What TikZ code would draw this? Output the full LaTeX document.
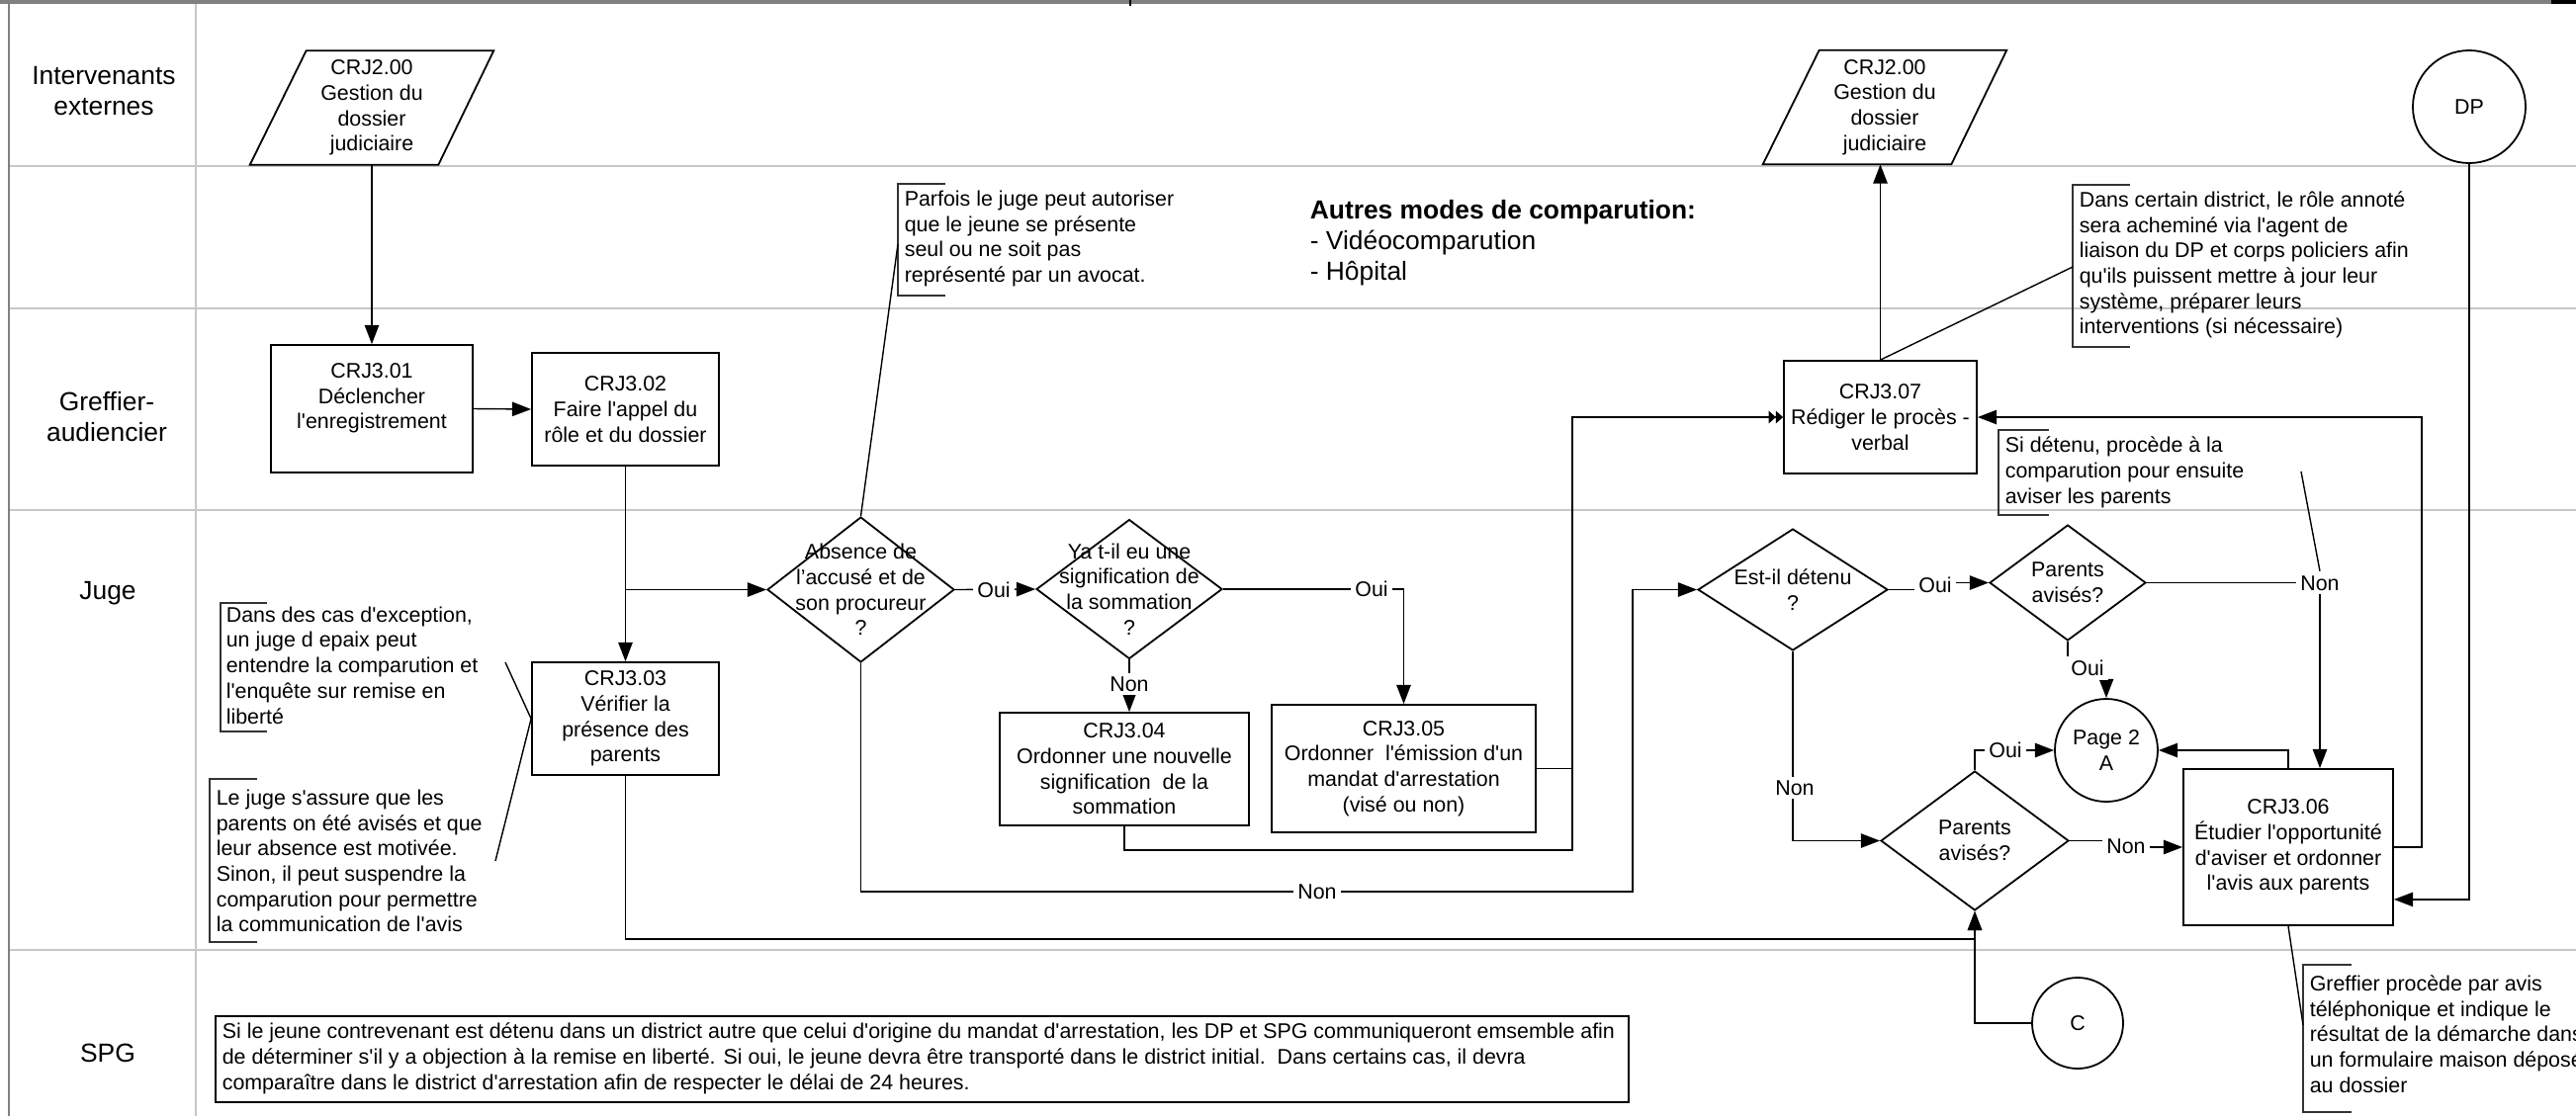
\documentclass[tikz,border=0pt]{standalone}
\usepackage{fontspec}
\setmainfont{Liberation Sans}[Ligatures=TeXOff]
\usetikzlibrary{arrows.meta,shapes.geometric,calc}
\tikzset{
  every node/.style={font=\fontsize{5.35}{6.43}\selectfont, inner sep=0pt},
  box/.style={draw, line width=0.45pt, rectangle, align=center},
  dia/.style={draw, line width=0.45pt, diamond, inner sep=0pt},
  circ/.style={draw, line width=0.45pt, circle, align=center},
  conn/.style={line width=0.35pt, -{Triangle[length=4.8pt,width=3.6pt]}},
  dconn/.style={line width=0.35pt, -{Triangle[length=1.8pt,width=3.1pt] Triangle[length=1.8pt,width=3.1pt]}},
  aline/.style={line width=0.35pt},
  lbl/.style={fill=white, inner sep=1pt},
  notetxt/.style={align=left, anchor=west},
  brk/.style={line width=0.4pt, draw=black!80},
  lane/.style={draw=black!22, line width=0.55pt},
  lanelbl/.style={align=center, font=\fontsize{6.6}{7.75}\selectfont},
}
\begin{document}
\begin{tikzpicture}[x=0.25pt, y=-0.25pt]
\useasboundingbox (0,0) rectangle (2605,1129);
% frame and lanes
\draw[lane] (198,0) -- (198,1129);
\foreach \yy in {168,312,516,961} \draw[lane] (9,\yy) -- (2605,\yy);
\draw[draw=black!50, line width=0.7pt] (9,0) -- (9,1129);
\draw[draw=black!50, line width=0.8pt] (0,2) -- (2605,2);
\draw[line width=1pt] (2580,2) -- (2605,2);
\draw[aline] (1143,0) -- (1143,6);

% lane labels
\node[lanelbl] (lx) at (105,92) {Intervenants\\externes};
\node[lanelbl] (lg) at (108,422) {Greffier-\\audiencier};
\node[lanelbl] (lj) at (109,600) {Juge};
\node[lanelbl] (ls) at (109,1065) {SPG};

% parallelograms
\node[align=center, minimum width=61.25pt, minimum height=28.5pt] (p1) at (376,109) {CRJ2.00\\Gestion du\\dossier\\judiciaire};
\draw[line width=0.45pt] (p1.south west) -- ($(p1.south east)+(-56,0)$) -- (p1.north east) -- ($(p1.north west)+(57,0)$) -- cycle;
\node[align=center, minimum width=61.25pt, minimum height=28.5pt] (p2) at (1906,108.5) {CRJ2.00\\Gestion du\\dossier\\judiciaire};
\draw[line width=0.45pt] (p2.south west) -- ($(p2.south east)+(-56,0)$) -- (p2.north east) -- ($(p2.north west)+(57,0)$) -- cycle;

\node[circ, minimum size=28.5pt] (dp) at (2497,108) {DP};

% process boxes
\node[box, minimum width=51pt, minimum height=32.25pt] (c301) at (376,413.5) {CRJ3.01\\Déclencher\\l'enregistrement\\\mbox{}};
\node[box, minimum width=47.25pt, minimum height=28.5pt] (c302) at (632.5,414) {CRJ3.02\\Faire l'appel du\\rôle et du dossier};
\node[box, minimum width=47.25pt, minimum height=28.5pt] (c303) at (632.5,727) {CRJ3.03\\Vérifier la\\présence des\\parents};
\node[box, minimum width=63pt, minimum height=28.5pt] (c304) at (1137,778) {CRJ3.04\\Ordonner une nouvelle\\signification\ \ de la\\sommation};
\node[box, minimum width=66.75pt, minimum height=32.25pt] (c305) at (1419.5,777.5) {CRJ3.05\\Ordonner\ \ l'émission d'un\\mandat d'arrestation\\(visé ou non)};
\node[box, minimum width=53pt, minimum height=39.5pt] (c306) at (2314,857) {CRJ3.06\\Étudier l'opportunité\\d'aviser et ordonner\\l'avis aux parents};
\node[box, minimum width=48.75pt, minimum height=28.5pt] (c307) at (1901.5,422) {CRJ3.07\\Rédiger le procès -\\verbal};

% decisions
\node[dia, minimum width=47.25pt, minimum height=36.75pt, label={[align=center]center:{Absence de\\l’accusé et de\\son procureur\\?}}] (dabs) at (870.5,596.5) {};
\node[dia, minimum width=47pt, minimum height=35.25pt, label={[align=center]center:{Ya t-il eu une\\signification de\\la sommation\\?}}] (dyat) at (1142,596) {};
\node[dia, minimum width=48pt, minimum height=30.75pt, label={[align=center]center:{Est-il détenu\\?}}] (dest) at (1813,596.5) {};
\node[dia, minimum width=39.5pt, minimum height=29.25pt, label={[align=center]center:{Parents\\avisés?}}] (dpa1) at (2091,589.5) {};
\node[dia, minimum width=47.5pt, minimum height=35.25pt, label={[align=center]center:{Parents\\avisés?}}] (dpa2) at (1997,850.5) {};

% connectors (off-page)
\node[circ, minimum size=26pt] (page2) at (2130,759) {Page 2\\A};
\node[circ, minimum size=23pt] (cc) at (2101,1035) {C};

% notes
\node[notetxt] (n1) at (914,241.5) {Parfois le juge peut autoriser\\que le jeune se présente\\seul ou ne soit pas\\représenté par un avocat.};
\draw[brk] (956,186) -- (908,186) -- (908,299) -- (956,299);
\node[notetxt] (n2) at (2102,268) {Dans certain district, le rôle annoté\\sera acheminé via l'agent de\\liaison du DP et corps policiers afin\\qu'ils puissent mettre à jour leur\\système, préparer leurs\\interventions (si nécessaire)};
\draw[brk] (2154,187) -- (2096,187) -- (2096,351) -- (2154,351);
\node[notetxt] (n3) at (2027,478) {Si détenu, procède à la\\comparution pour ensuite\\aviser les parents};
\draw[brk] (2072,435) -- (2021,435) -- (2021,521) -- (2072,521);
\node[notetxt] (n4) at (228,673) {Dans des cas d'exception,\\un juge d epaix peut\\entendre la comparution et\\l'enquête sur remise en\\liberté};
\draw[brk] (270,610) -- (223,610) -- (223,740) -- (270,740);
\node[notetxt] (n5) at (218,871) {Le juge s'assure que les\\parents on été avisés et que\\leur absence est motivée.\\Sinon, il peut suspendre la\\comparution pour permettre\\la communication de l'avis};
\draw[brk] (260,788) -- (212,788) -- (212,953) -- (260,953);
\node[notetxt] (n6) at (2335,1046) {Greffier procède par avis\\téléphonique et indique le\\résultat de la démarche dans\\un formulaire maison déposé\\au dossier};
\draw[brk] (2378,976) -- (2329,976) -- (2329,1125) -- (2378,1125);

\node[notetxt, font=\fontsize{6.6}{7.75}\selectfont] (autres) at (1324,246) {\textbf{Autres modes de comparution:}\\- Vidéocomparution\\- Hôpital};

\node[notetxt] (spg) at (224,1071) {Si le jeune contrevenant est détenu dans un district autre que celui d'origine du mandat d'arrestation, les DP et SPG communiqueront emsemble afin\\de déterminer s'il y a objection à la remise en liberté. Si oui, le jeune devra être transporté dans le district initial.\ \ Dans certains cas, il devra\\comparaître dans le district d'arrestation afin de respecter le délai de 24 heures.};
\draw[line width=0.45pt] (218,1028) rectangle (1647,1115);

% flow connectors
\draw[conn] (p1.south) -- (c301.north);
\draw[conn] (c301.east) -- (c302.west);
\draw[conn] (c302.south) -- (c303.north);
\draw[conn] (c302.south |- dabs.west) -- (dabs.west);
\draw[conn] (dabs.east) -- (dyat.west);
\draw[conn] (dyat.east) -| (c305.north);
\draw[conn] (dyat.south) -- (dyat.south |- c304.north);
\coordinate (k2) at (1590,860);
\draw[dconn] (c305.east) -| (k2 |- c307.west) -- (c307.west);
\draw[aline] (c304.south) |- (k2) -- (k2 |- c305.east);
\coordinate (k1) at (1651,902);
\draw[conn] (dabs.south) |- (k1) |- (dest.west);
\draw[conn] (dest.east) -- (1957,596.5) |- (dpa1.west);
\draw[conn] (dpa1.east) -| ($(c306.north)+(32,0)$);
\draw[conn] (dpa1.south) -- ++(0,28) -| (page2.north);
\draw[conn] (dest.south) |- (dpa2.west);
\draw[conn] (dpa2.north) |- (page2.west);
\draw[conn] (dpa2.east) -- (2147,850.5) |- (c306.west);
\draw[conn] (c306.north) |- (page2.east);
\draw[conn] (c306.east) -- ++(28,0) |- (c307.east);
\draw[conn] (dp.south) |- ($(c306.south east)+(0,-27)$);
\coordinate (k3) at (0,950);
\draw[conn] (c303.south) |- (dpa2.south |- k3) -- (dpa2.south);
\draw[conn] (cc.west) -| (dpa2.south);
\draw[conn] (c307.north) -- (c307.north |- p2.south);

% connector labels
\node[lbl] (l1) at (1005,596.5) {Oui};
\node[lbl] (l2) at (1387,596) {Oui};
\node[lbl] (l3) at (1142,692) {Non};
\node[lbl] (l4) at (1332,902) {Non};
\node[lbl] (l5) at (1957,592) {Oui};
\node[lbl] (l6) at (2346,590) {Non};
\node[lbl] (l7) at (2111,676) {Oui};
\node[lbl] (l8) at (1815,797) {Non};
\node[lbl] (l9) at (2028,759) {Oui};
\node[lbl] (l10) at (2150,856) {Non};

% annotation pointers
\coordinate (a1) at (908,247);
\draw[aline] (a1) -- (dabs.north);
\coordinate (a2) at (2096,270);
\draw[aline] (a2) -- (c307.north);
\coordinate (a3) at (2327,477);
\draw[aline] (a3) -- (l6.north);
\coordinate (a4) at (511,670);
\draw[aline] (a4) -- (c303.west);
\coordinate (a5) at (501,871);
\draw[aline] (a5) -- (c303.west);
\coordinate (a6) at (2329,1037);
\draw[aline] (c306.south) -- (a6);
\end{tikzpicture}
\end{document}
